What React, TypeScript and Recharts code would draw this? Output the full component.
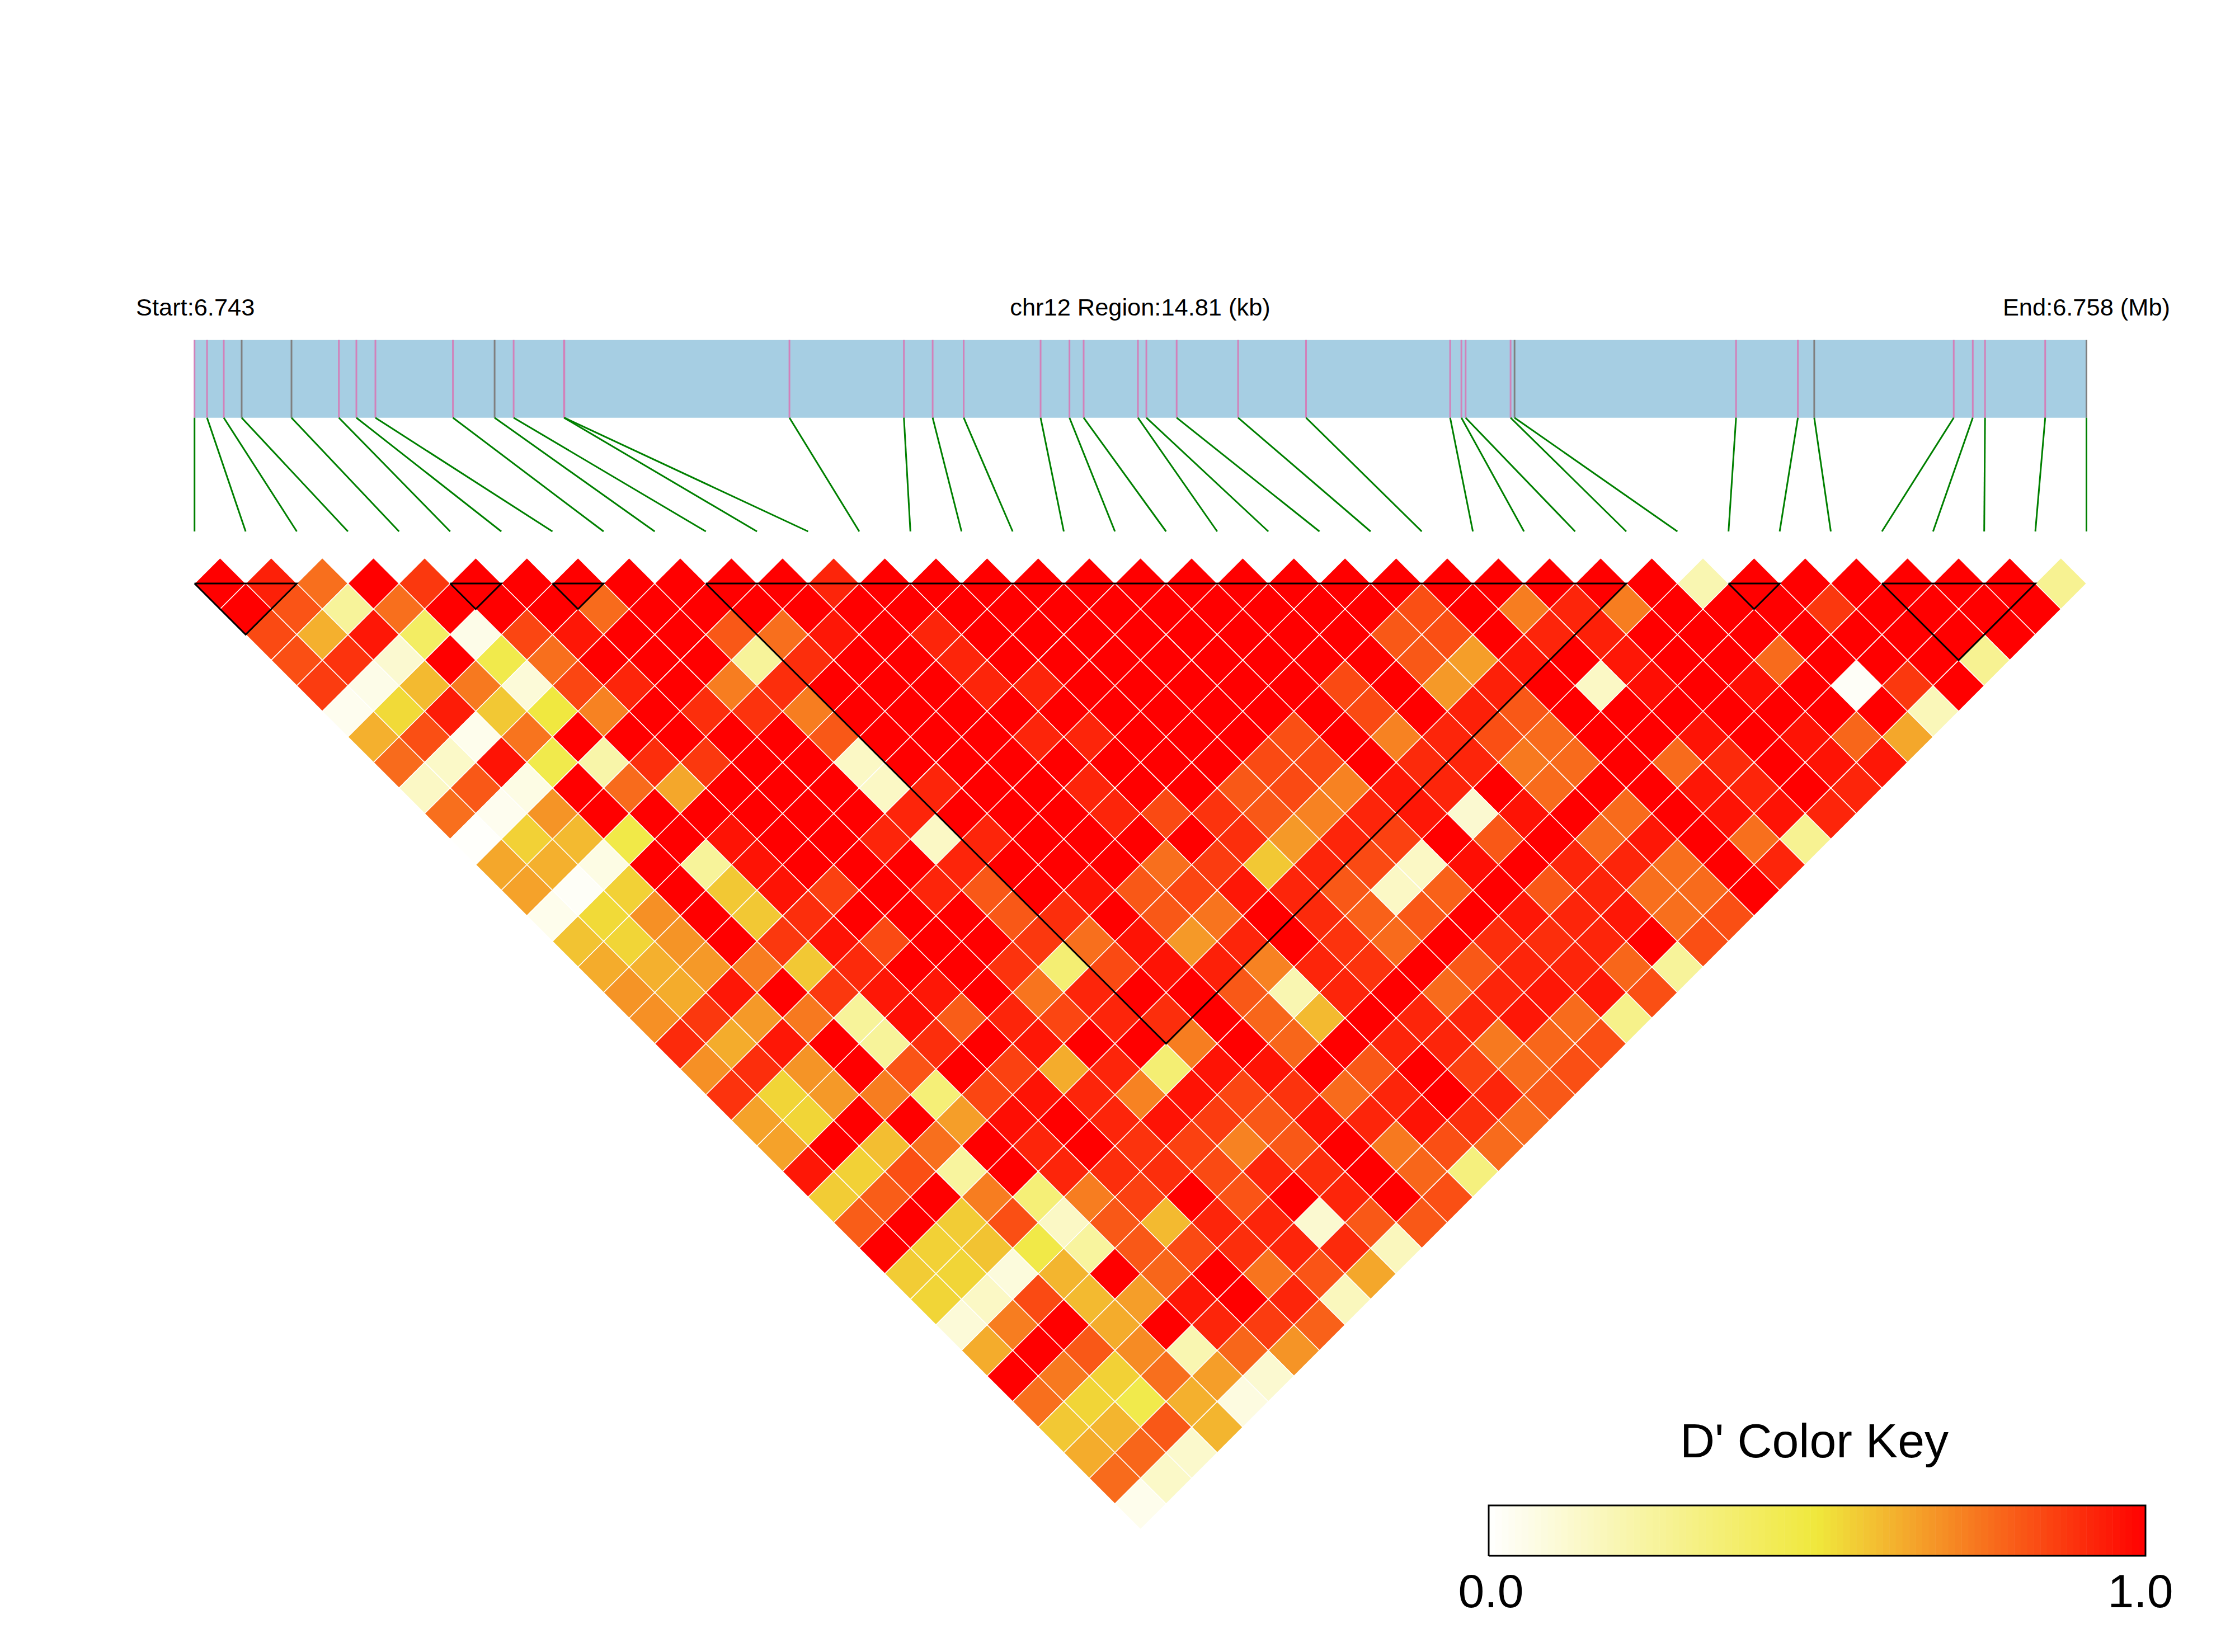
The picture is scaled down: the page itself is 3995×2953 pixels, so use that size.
import React from "react";
import { ScatterChart, Scatter, XAxis, YAxis, ReferenceLine, ReferenceArea } from "recharts";

// SNP positions along the region, kb from the start
const snpPositionsKb = [
  0, 0.098, 0.229, 0.369, 0.759, 1.13, 1.267, 1.416, 2.023, 2.349,
  2.498, 2.892, 2.895, 4.657, 5.553, 5.778, 6.021, 6.623, 6.849, 6.96,
  7.385, 7.451, 7.688, 8.169, 8.701, 9.829, 9.917, 9.95, 10.302, 10.333,
  12.067, 12.551, 12.679, 13.771, 13.92, 14.016, 14.487, 14.81,
];
const graySnps = [3, 4, 9, 29, 32, 37];
const regionKb = 14.81;

// LD blocks, first and last SNP index
const blocks = [[0, 2], [5, 6], [7, 8], [10, 28], [30, 31], [33, 36]];

// D' per row of the triangle, row 0 is adjacent SNPs
const row0 = [1, .93, .76, 1, .88, 1, 1, 1, 1, 1, 1, 1, .92, 1, 1, 1, 1, 1, 1, 1, 1, 1, 1, 1, 1, 1, 1, 1, 1, .2, 1, 1, 1, 1, 1, 1, .28];
const row1 = [1, .82, .26, .76, 1, 1, 1, .77, 1, 1, 1, 1, 1, 1, 1, 1, 1, 1, 1, 1, 1, 1, 1, .83, 1, .73, .92, .73, 1, 1, 1, .88, 1, 1, 1, 1];
const row2 = [.84, .62, .95, .4, .06, .85, .95, 1, 1, .81, .76, .95, 1, .92, 1, 1, 1, 1, 1, 1, 1, 1, .81, .83, 1, .92, .93, 1, 1, 1, 1, 1, 1, 1, 1];
const row3 = [.83, .89, .12, 1, .46, .76, 1, 1, 1, .26, .9, 1, 1, .92, 1, 1, 1, 1, 1, 1, 1, 1, .81, .66, .95, 1, .95, 1, 1, .77, 1, 1, 1, .28];
const row4 = [.87, .06, .6, .74, .1, .85, .92, 1, .73, .9, 1, 1, 1, .92, .92, 1, 1, 1, 1, 1, .84, 1, .67, .93, 1, .15, .97, 1, .97, 1, .02, .88, 1];
const row5 = [.04, .53, .94, .57, .49, .72, 1, .9, .89, .73, 1, 1, 1, 1, 1, 1, 1, 1, 1, 1, .84, 1, .93, .81, 1, 1, 1, 1, 1, 1, 1, .18];
const row6 = [.62, .83, .05, .75, 1, 1, 1, 1, 1, .81, 1, 1, 1, .92, .92, 1, 1, 1, .83, 1, .72, .92, .83, .77, 1, 1, .96, 1, .96, .78, .64];
const row7 = [.77, .14, .96, .46, .22, .9, .88, 1, 1, .15, 1, 1, 1, 1, 1, 1, 1, .84, .84, 1, .91, .92, .74, .77, 1, .77, .91, 1, .96, .95];
const row8 = [.15, .81, .07, 1, .77, .64, 1, 1, 1, .15, .92, 1, 1, .92, 1, 1, .81, .84, .72, .95, .92, 1, .77, 1, 1, .95, .92, 1, .92];
const row9 = [.76, .04, .68, 1, 1, 1, 1, 1, 1, .92, 1, 1, 1, .92, .84, .89, .81, .72, .92, .95, .12, .96, 1, .77, 1, .96, .96, .92];
const row10 = [.01, .55, .6, .47, 1, .96, 1, 1, .92, .15, .92, 1, 1, 1, 1, .9, .67, .92, .86, 1, .81, 1, .77, .95, 1, .76, .28];
const row11 = [.64, .62, .07, 1, .26, .96, 1, 1, 1, .92, 1, 1, 1, .76, .87, .57, .92, .84, .15, .97, 1, .92, .92, .76, 1, .92];
const row12 = [.65, .02, .55, 1, .57, .96, .86, 1, .92, .81, 1, .96, .81, .85, .95, .92, .81, .15, .79, 1, .81, .92, .76, .77, 1];
const row13 = [.05, .53, .69, 1, .57, .9, 1, 1, 1, .81, .9, 1, .81, .75, 1, .91, .79, .81, 1, .95, .92, .95, .76, .83];
const row14 = [.58, .54, .68, 1, .88, .96, .84, 1, 1, .88, .76, .96, .67, .92, 1, .89, .77, 1, .9, .9, .92, 1, .83];
const row15 = [.63, .62, .67, .73, .57, .91, 1, 1, .89, .36, .84, .96, .93, .72, .92, .89, 1, .81, .92, .92, .78, .26];
const row16 = [.68, .63, .95, 1, .88, .95, .95, 1, .75, .92, 1, 1, .81, .2, .92, 1, .77, .92, .95, .95, .83];
const row17 = [.69, .88, .67, .74, .26, .97, .8, .92, .85, .92, .9, 1, .78, .6, 1, .92, .92, .95, .77, .3];
const row18 = [.91, .63, .95, 1, .26, .9, 1, .95, 1, 1, .73, 1, .78, 1, .92, .92, .74, .78, .83];
const row19 = [.69, .9, .68, 1, .82, 1, .86, .63, .92, .36, .96, .96, 1, .81, 1, .86, .77, .83];
const row20 = [.89, .54, .67, .73, .35, .85, .96, .92, .72, .96, .85, .89, .77, .92, 1, .92, .81];
const row21 = [.65, .54, 1, 1, .66, .97, 1, .92, .96, .87, .81, .96, .92, .96, .9, .77];
const row22 = [.65, 1, .59, .76, 1, .92, 1, .89, .86, .72, .81, 1, .74, .83, .77];
const row23 = [.95, .55, .83, .25, 1, .92, .9, .9, .84, .92, .9, 1, .78, .33];
const row24 = [.56, .8, 1, .73, .35, .73, .86, 1, .82, 1, .92, 1, .83];
const row25 = [.8, 1, .56, .83, .15, .81, .6, .92, .92, .12, .81, .81];
const row26 = [1, .55, .58, .47, .25, .81, .84, .9, .92, .91, .17];
const row27 = [.56, .54, .09, .61, 1, .78, 1, .75, .82, .64];
const row28 = [.54, .15, .84, .6, .66, .95, 1, .92, .17];
const row29 = [.1, .73, 1, .63, 1, .92, .87, .79];
const row30 = [.63, 1, .81, .7, .2, .78, .68];
const row31 = [1, .74, .55, .76, .66, .12];
const row32 = [.76, .54, .46, .62, .08];
const row33 = [.57, .61, .81, .61];
const row34 = [.63, .78, .13];
const row35 = [.77, .14];
const row36 = [.05];

const rows = [
  row0, row1, row2, row3, row4, row5, row6, row7, row8, row9, row10, row11, row12,
  row13, row14, row15, row16, row17, row18, row19, row20, row21, row22, row23, row24,
  row25, row26, row27, row28, row29, row30, row31, row32, row33, row34, row35, row36,
];

const W = 3995;
const H = 2953;
const firstSnpPx = 347.7;
const snpStepPx = 91.4;
const topRowPx = 1043;
const rowStepPx = 45.7;

const pxToRow = (px: number) => (px - topRowPx) / rowStepPx;
const barTop = pxToRow(607.7);
const barBottom = pxToRow(746.7);
const connectorBottom = pxToRow(950);
const snpIndexAt = (kb: number) => (kb / regionKb) * (snpPositionsKb.length - 1);

const cells = rows.flatMap((values, depth) =>
  values.map((d, p) => ({ x: p + (depth + 1) / 2, y: depth, d }))
);

// white -> yellow at 0.5 -> red
function dPrimeColor(v: number) {
  const mix = (a: number[], b: number[], t: number) =>
    `rgb(${a.map((c, i) => Math.round(c + (b[i] - c) * t)).join(",")})`;
  const yellow = [240, 232, 60];
  return v < 0.5 ? mix([255, 255, 255], yellow, v / 0.5) : mix(yellow, [255, 0, 0], (v - 0.5) / 0.5);
}

function Diamond({ cx, cy, payload }: any) {
  const r = rowStepPx;
  return (
    <polygon
      points={`${cx},${cy - r} ${cx + r},${cy} ${cx},${cy + r} ${cx - r},${cy}`}
      fill={dPrimeColor(payload.d)}
      stroke="#ffffff"
      strokeWidth={1.5}
    />
  );
}

const noMarker = () => null;

// color key
const keyWidthPx = 1174;
const keyHeightPx = 90;
const keyStepCount = 100;
const keySteps = Array.from({ length: keyStepCount }, (_, i) => ({ x: (i + 0.5) / keyStepCount, y: 0.5 }));

function KeyStep({ cx, cy, payload }: any) {
  const w = keyWidthPx / keyStepCount;
  return (
    <rect
      x={cx - w / 2}
      y={cy - keyHeightPx / 2}
      width={w + 0.5}
      height={keyHeightPx}
      fill={dPrimeColor(payload.x)}
    />
  );
}

function KeyTick({ x, y, payload }: any) {
  const shift = payload.value === 0 ? 4 : -9;
  return (
    <text x={x + shift} y={y + 84} textAnchor="middle" fontSize={84} fill="#000">
      {payload.value.toFixed(1)}
    </text>
  );
}

const topLabel = { fontSize: 43.4, fill: "#000" };

export default function App() {
  return (
    <div style={{ position: "absolute", left: 0, top: 0, width: W, height: H, background: "#fff", fontFamily: "'Liberation Sans', Arial, sans-serif" }}>
      <div style={{ position: "absolute", left: 0, top: 0 }}>
        <ScatterChart width={W} height={H} margin={{ top: 0, right: 0, bottom: 0, left: 0 }}>
          <XAxis
            type="number"
            dataKey="x"
            hide
            domain={[-firstSnpPx / snpStepPx, (W - firstSnpPx) / snpStepPx]}
          />
          <YAxis
            type="number"
            dataKey="y"
            hide
            reversed
            domain={[-topRowPx / rowStepPx, (H - topRowPx) / rowStepPx]}
          />

          <ReferenceArea
            x1={0}
            x2={snpPositionsKb.length - 1}
            y1={barTop}
            y2={barBottom}
            fill="#A6CEE3"
            fillOpacity={1}
            stroke="none"
            ifOverflow="visible"
          />
          {snpPositionsKb.map((kb, i) => (
            <ReferenceLine
              key={`tick-${i}`}
              segment={[{ x: snpIndexAt(kb), y: barTop }, { x: snpIndexAt(kb), y: barBottom }]}
              stroke={graySnps.includes(i) ? "#7F7F7F" : "#D281BA"}
              strokeWidth={3}
              ifOverflow="visible"
            />
          ))}
          {snpPositionsKb.map((kb, i) => (
            <ReferenceLine
              key={`link-${i}`}
              segment={[{ x: snpIndexAt(kb), y: barBottom }, { x: i, y: connectorBottom }]}
              stroke="#008000"
              strokeWidth={3}
              ifOverflow="visible"
            />
          ))}

          <Scatter data={cells} shape={Diamond} isAnimationActive={false} />

          {blocks.map(([a, b]) => (
            <Scatter
              key={`block-${a}`}
              data={[{ x: a, y: 0 }, { x: b, y: 0 }, { x: (a + b) / 2, y: b - a }, { x: a, y: 0 }]}
              line={{ stroke: "#000", strokeWidth: 3 }}
              shape={noMarker}
              isAnimationActive={false}
            />
          ))}

          <text x={243} y={564} {...topLabel}>Start:6.743</text>
          <text x={2038} y={564} textAnchor="middle" {...topLabel}>chr12 Region:14.81 (kb)</text>
          <text x={3879} y={564} textAnchor="end" {...topLabel}>End:6.758 (Mb)</text>
        </ScatterChart>
      </div>

      <div style={{ position: "absolute", left: 2500, top: 2480 }}>
        <ScatterChart width={1495} height={473} margin={{ top: 211, right: 160, bottom: 0, left: 161 }}>
          <XAxis
            type="number"
            dataKey="x"
            domain={[0, 1]}
            ticks={[0, 1]}
            interval={0}
            height={172}
            axisLine={false}
            tickLine={false}
            tick={KeyTick}
          />
          <YAxis type="number" dataKey="y" hide domain={[0, 1]} />
          <Scatter data={keySteps} shape={KeyStep} isAnimationActive={false} />
          <Scatter
            data={[{ x: 0, y: 0 }, { x: 1, y: 0 }, { x: 1, y: 1 }, { x: 0, y: 1 }, { x: 0, y: 0 }]}
            line={{ stroke: "#000", strokeWidth: 3 }}
            shape={noMarker}
            isAnimationActive={false}
          />
          <text x={743} y={125} textAnchor="middle" fontSize={86} fill="#000">D' Color Key</text>
        </ScatterChart>
      </div>
    </div>
  );
}
